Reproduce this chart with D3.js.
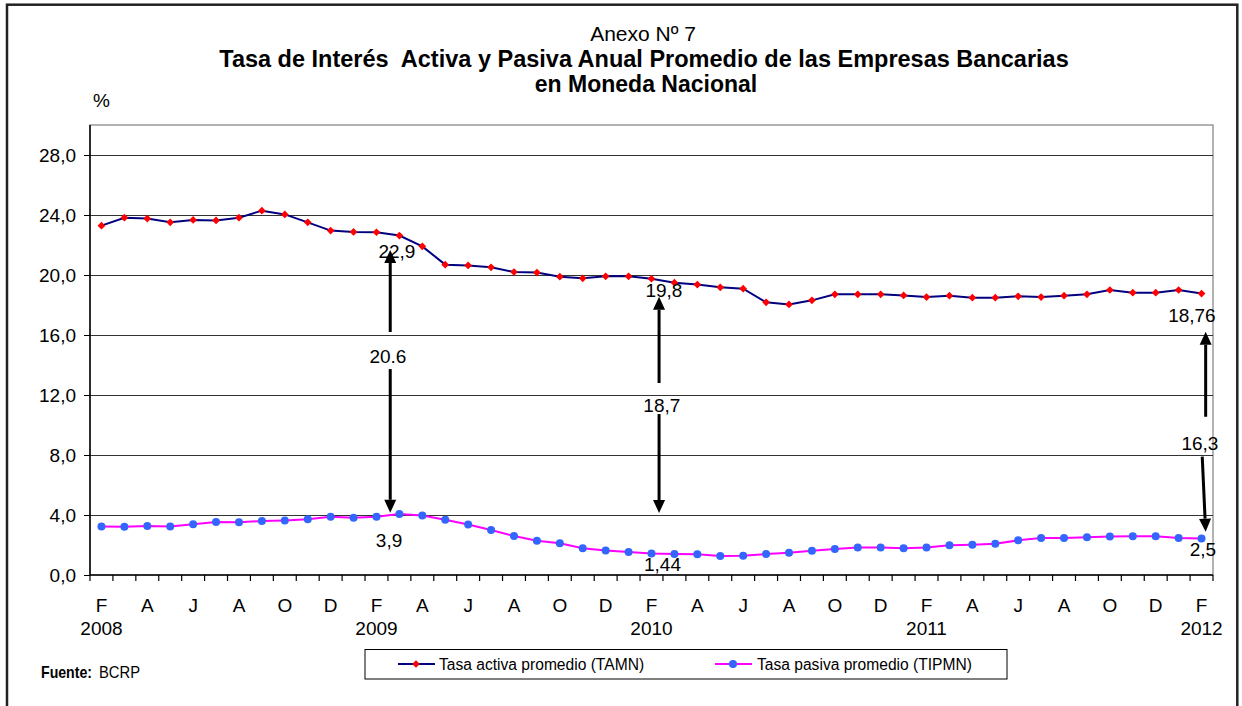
<!DOCTYPE html>
<html>
<head>
<meta charset="UTF-8"/>
<title>Tasa de interés activa y pasiva</title>
<script src="https://d3js.org/d3.v7.min.js"></script>
<style>
body { margin: 0; background: #fff; font-family: Arial, 'Liberation Sans', sans-serif; }
text { fill: #000; }
.axis path, .axis line { stroke: #000; }
.grid line { stroke: #333; shape-rendering: crispEdges; }
.grid path { stroke-width: 0; }
</style>
</head>
<body>
<svg width="1242" height="706"></svg>
<script>
const categories = [
  "2008-02","2008-03","2008-04","2008-05","2008-06","2008-07","2008-08","2008-09","2008-10","2008-11","2008-12",
  "2009-01","2009-02","2009-03","2009-04","2009-05","2009-06","2009-07","2009-08","2009-09","2009-10","2009-11","2009-12",
  "2010-01","2010-02","2010-03","2010-04","2010-05","2010-06","2010-07","2010-08","2010-09","2010-10","2010-11","2010-12",
  "2011-01","2011-02","2011-03","2011-04","2011-05","2011-06","2011-07","2011-08","2011-09","2011-10","2011-11","2011-12",
  "2012-01","2012-02"
];
const monthLetters = ["E","F","M","A","M","J","J","A","S","O","N","D"];

// Tasa activa promedio (TAMN)
const tamn = [
  23.29, 23.82, 23.76, 23.51, 23.67, 23.64, 23.82, 24.29, 24.04, 23.51, 22.96,
  22.87, 22.85, 22.63, 21.91, 20.69, 20.64, 20.51, 20.20, 20.16, 19.89, 19.78, 19.91,
  19.91, 19.75, 19.49, 19.36, 19.18, 19.09, 18.18, 18.04, 18.31, 18.71, 18.71, 18.71,
  18.64, 18.53, 18.62, 18.49, 18.49, 18.58, 18.53, 18.62, 18.71, 19.00, 18.82, 18.82,
  19.00, 18.76
];
// Tasa pasiva promedio (TIPMN)
const tipmn = [
  3.24, 3.22, 3.27, 3.24, 3.38, 3.53, 3.51, 3.60, 3.64, 3.71, 3.89,
  3.82, 3.89, 4.07, 3.96, 3.69, 3.36, 3.00, 2.60, 2.29, 2.11, 1.78, 1.64,
  1.53, 1.44, 1.40, 1.38, 1.27, 1.29, 1.40, 1.49, 1.62, 1.73, 1.84, 1.84,
  1.78, 1.84, 1.98, 2.02, 2.09, 2.31, 2.47, 2.47, 2.51, 2.56, 2.58, 2.58,
  2.47, 2.44
];
const yTicks = [0, 4, 8, 12, 16, 20, 24, 28];

// arrows: category index, horizontal offset (in bands), start/end values
const arrows = [
  { i: 12, dx1: 0.6,  dx2: 0.6,  from: 16.2,  to: 21.67 },
  { i: 12, dx1: 0.6,  dx2: 0.6,  from: 13.73, to: 4.15 },
  { i: 24, dx1: 0.33, dx2: 0.33, from: 12.8,  to: 18.55 },
  { i: 24, dx1: 0.33, dx2: 0.33, from: 10.73, to: 4.13 },
  { i: 48, dx1: 0.18, dx2: 0.18, from: 10.55, to: 16.22 },
  { i: 48, dx1: 0.03, dx2: 0.18, from: 7.89,  to: 2.89 }
];
const notes = [
  { t: "22,9",  i: 12, dx: 0.89,  v: 21.55 },
  { t: "20.6",  i: 12, dx: 0.5,   v: 14.6 },
  { t: "3,9",   i: 12, dx: 0.55,  v: 2.29 },
  { t: "19,8",  i: 24, dx: 0.54,  v: 19.0 },
  { t: "18,7",  i: 24, dx: 0.45,  v: 11.33 },
  { t: "1,44",  i: 24, dx: 0.48,  v: 0.67 },
  { t: "18,76", i: 48, dx: -0.42, v: 17.33 },
  { t: "16,3",  i: 48, dx: -0.07, v: 8.8 },
  { t: "2,5",   i: 48, dx: 0.06,  v: 1.67 }
];

const svg = d3.select('svg');
const pLeft = 90, pRight = 1213, pTop = 125, pBottom = 575;

const x = d3.scaleBand().domain(categories).range([pLeft, pRight]).padding(0);
const y = d3.scaleLinear().domain([0, 30]).range([pBottom, pTop]);
const cx = (i, dx = 0) => x(categories[i]) + x.bandwidth() / 2 + dx * x.bandwidth();
const fmt = v => d3.format('.1f')(v).replace('.', ',');

// outer frame
svg.append('rect')
  .attr('x', 7).attr('y', 4.7).attr('width', 1230.3).attr('height', 720)
  .attr('fill', 'none').attr('stroke', '#222').attr('stroke-width', 2.5);

// titles
svg.append('text').attr('x', 643).attr('y', 41).attr('text-anchor', 'middle')
  .style('font-size', '21px').text('Anexo Nº 7');
svg.append('text').attr('x', 644).attr('y', 66.5).attr('text-anchor', 'middle')
  .style('font-size', '23.5px').style('font-weight', 'bold').style('white-space', 'pre')
  .text('Tasa de Interés  Activa y Pasiva Anual Promedio de las Empresas Bancarias');
svg.append('text').attr('x', 646).attr('y', 92).attr('text-anchor', 'middle')
  .style('font-size', '23px').style('font-weight', 'bold').text('en Moneda Nacional');
svg.append('text').attr('x', 93).attr('y', 107).style('font-size', '19px').text('%');

// plot frame (grey)
svg.append('rect')
  .attr('x', pLeft).attr('y', pTop).attr('width', pRight - pLeft).attr('height', pBottom - pTop)
  .attr('fill', 'none').attr('stroke', '#808080').attr('stroke-width', 1.2);

// gridlines
svg.append('g').attr('class', 'grid')
  .attr('transform', `translate(${pLeft},0)`)
  .call(d3.axisLeft(y).tickValues(yTicks.filter(d => d > 0)).tickSize(-(pRight - pLeft)).tickFormat(''));

// y axis
svg.append('g').attr('class', 'axis')
  .attr('transform', `translate(${pLeft},0)`)
  .call(d3.axisLeft(y).tickValues(yTicks).tickSize(6).tickPadding(8).tickFormat(fmt))
  .call(g => g.select('.domain').attr('d', `M0,${pTop}V${pBottom}`).attr('stroke-width', 1.5))
  .call(g => g.selectAll('text').style('font-size', '19px').style('font-family', 'Arial, Liberation Sans, sans-serif'));

// x axis line and boundary ticks
const xa = svg.append('g').attr('class', 'axis');
xa.append('line').attr('x1', pLeft).attr('x2', pRight).attr('y1', pBottom).attr('y2', pBottom)
  .attr('stroke-width', 1.5);
xa.selectAll('line.tk').data(d3.range(categories.length + 1)).join('line')
  .attr('class', 'tk')
  .attr('x1', i => pLeft + i * x.step()).attr('x2', i => pLeft + i * x.step())
  .attr('y1', pBottom).attr('y2', pBottom + 6).attr('stroke-width', 1.2);

// month letters on every other category
xa.selectAll('text.m').data(categories.filter((c, i) => i % 2 === 0)).join('text')
  .attr('class', 'm')
  .attr('x', c => x(c) + x.bandwidth() / 2).attr('y', 612)
  .attr('text-anchor', 'middle').style('font-size', '19px')
  .text(c => monthLetters[+c.slice(5, 7) - 1]);
xa.selectAll('text.yr').data(categories.filter(c => c.slice(5, 7) === '02')).join('text')
  .attr('class', 'yr')
  .attr('x', c => x(c) + x.bandwidth() / 2).attr('y', 635)
  .attr('text-anchor', 'middle').style('font-size', '19px')
  .text(c => c.slice(0, 4));

// series
const line = d3.line().x((d, i) => cx(i)).y(d => y(d));
svg.append('path').datum(tamn).attr('d', line)
  .attr('fill', 'none').attr('stroke', '#000080').attr('stroke-width', 2);
svg.append('path').datum(tipmn).attr('d', line)
  .attr('fill', 'none').attr('stroke', '#FF00FF').attr('stroke-width', 2);

const diamond = d3.symbol().type(d3.symbolSquare).size(30);
svg.append('g').selectAll('path').data(tamn).join('path')
  .attr('d', diamond)
  .attr('transform', (d, i) => `translate(${cx(i)},${y(d)}) rotate(45)`)
  .attr('fill', '#FF0000');
svg.append('g').selectAll('circle').data(tipmn).join('circle')
  .attr('cx', (d, i) => cx(i)).attr('cy', d => y(d)).attr('r', 4)
  .attr('fill', '#3366FF');

// arrows
const ag = svg.append('g');
arrows.forEach(a => {
  const x1 = cx(a.i, a.dx1), y1 = y(a.from), x2 = cx(a.i, a.dx2), y2 = y(a.to);
  const ang = Math.atan2(y2 - y1, x2 - x1);
  const hl = 13, hw = 6;
  const bx = x2 - hl * Math.cos(ang), by = y2 - hl * Math.sin(ang);
  ag.append('line').attr('x1', x1).attr('y1', y1).attr('x2', bx).attr('y2', by)
    .attr('stroke', '#000').attr('stroke-width', 3);
  const px = -Math.sin(ang) * hw, py = Math.cos(ang) * hw;
  ag.append('path')
    .attr('d', `M${x2},${y2}L${bx + px},${by + py}L${bx - px},${by - py}Z`)
    .attr('fill', '#000');
});
svg.append('g').selectAll('text').data(notes).join('text')
  .attr('x', d => cx(d.i, d.dx)).attr('y', d => y(d.v))
  .attr('text-anchor', 'middle').attr('dominant-baseline', 'central')
  .style('font-size', '19px').text(d => d.t);

// legend
const lg = svg.append('g');
lg.append('rect').attr('x', 365).attr('y', 649.5).attr('width', 642).attr('height', 29.5)
  .attr('fill', '#fff').attr('stroke', '#000').attr('stroke-width', 1);
lg.append('line').attr('x1', 398).attr('x2', 435).attr('y1', 664).attr('y2', 664)
  .attr('stroke', '#000080').attr('stroke-width', 2);
lg.append('path').attr('d', diamond).attr('transform', 'translate(416,664) rotate(45)').attr('fill', '#FF0000');
lg.append('text').attr('x', 439).attr('y', 669.5).style('font-size', '15.6px').text('Tasa activa promedio (TAMN)');
lg.append('line').attr('x1', 715).attr('x2', 752).attr('y1', 664).attr('y2', 664)
  .attr('stroke', '#FF00FF').attr('stroke-width', 2);
lg.append('circle').attr('cx', 733).attr('cy', 664).attr('r', 4).attr('fill', '#3366FF');
lg.append('text').attr('x', 757).attr('y', 669.5).style('font-size', '15.6px').text('Tasa pasiva promedio (TIPMN)');

// source
const narrow = "'Liberation Sans Narrow', 'Arial Narrow', Arial, sans-serif";
svg.append('text').attr('x', 41).attr('y', 678)
  .attr('textLength', 51).attr('lengthAdjust', 'spacingAndGlyphs')
  .style('font-family', narrow).style('font-size', '17px').style('font-weight', 'bold')
  .text('Fuente:');
svg.append('text').attr('x', 99).attr('y', 678)
  .attr('textLength', 41).attr('lengthAdjust', 'spacingAndGlyphs')
  .style('font-family', narrow).style('font-size', '17px')
  .text('BCRP');
</script>
</body>
</html>
